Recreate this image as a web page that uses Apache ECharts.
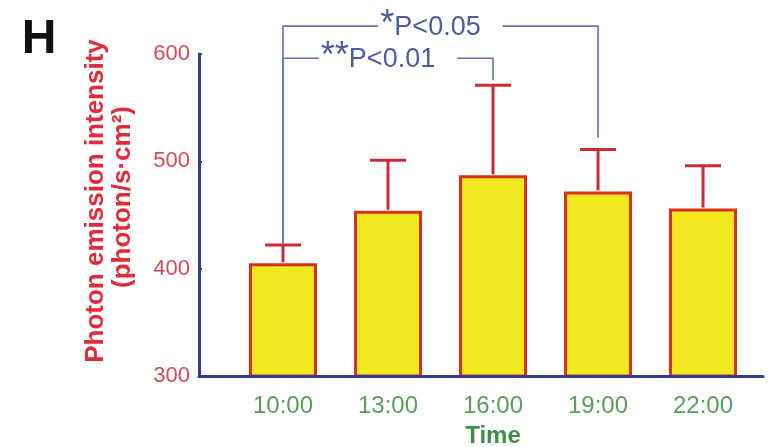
<!DOCTYPE html>
<html>
<head>
<meta charset="utf-8">
<script src="https://cdn.jsdelivr.net/npm/echarts@6/dist/echarts.min.js"></script>
<style>
html,body{margin:0;padding:0;background:#fff;}
#chart{width:769px;height:447px;}
</style>
</head>
<body>
<div id="chart"></div>
<script>
// ---- data ----
const categories = ['10:00', '13:00', '16:00', '19:00', '22:00'];
const meanValues = [405, 454, 487, 472, 456];
const errorValues = [17, 47, 84, 39, 40];
const yTickValues = [300, 400, 500, 600];
const sigFrom = [0, 0];
const sigTo = [3, 2];
const sigStars = ['*', '**'];
const sigLabels = ['P<0.05', 'P<0.01'];
const sigLevels = [626, 596];

// ---- styles / annotation layout ----
const sigDropGap = [12, 5];
const FONT = 'Liberation Sans, Arial, sans-serif';
const AXIS_BLUE = '#2e3f8f';
const BRACKET = '#6474a8';
const SIG_TEXT = '#4c5c9c';
const STAR_FONT = '36px ' + FONT;
const P_FONT = '27px ' + FONT;

const measureCtx = document.createElement('canvas').getContext('2d');
function textWidth(t, font) { measureCtx.font = font; return measureCtx.measureText(t).width; }

const chart = echarts.init(document.getElementById('chart'), null, {renderer: 'canvas'});

const option = {
  backgroundColor: '#ffffff',
  animation: false,
  grid: {left: 199, right: 6, top: 54, bottom: 71, containLabel: false, outerBoundsMode: 'none'},
  graphic: [
    {type: 'text', x: 39, y: 40, style: {text: 'H', font: 'bold 48px ' + FONT, fill: '#111', align: 'center', verticalAlign: 'middle'}},
    {type: 'text', x: 96, y: 201, rotation: Math.PI / 2, style: {text: 'Photon emission intensity', font: 'bold 26px ' + FONT, fill: '#e02b3b', align: 'center', verticalAlign: 'middle'}},
    {type: 'text', x: 123, y: 197, rotation: Math.PI / 2, style: {text: '(photon/s\u00b7cm\u00b2)', font: 'bold 26px ' + FONT, fill: '#e02b3b', align: 'center', verticalAlign: 'middle'}}
  ],
  xAxis: {
    type: 'value',
    min: -0.8,
    max: 4.571,
    z: 5,
    axisLine: {show: true, onZero: false, lineStyle: {color: AXIS_BLUE, width: 3}},
    axisTick: {show: false},
    splitLine: {show: false},
    axisLabel: {
      customValues: categories.map((c, i) => i),
      formatter: v => categories[Math.round(v)] || '',
      color: '#5a9e5a', fontSize: 24, fontFamily: FONT, margin: 18
    },
    name: 'Time',
    nameLocation: 'middle',
    nameGap: 48,
    nameTextStyle: {color: '#3f8f48', fontWeight: 'bold', fontSize: 24, fontFamily: FONT, padding: [0, 0, 0, 24]}
  },
  yAxis: {
    type: 'value',
    min: yTickValues[0],
    max: yTickValues[yTickValues.length - 1],
    interval: yTickValues[1] - yTickValues[0],
    z: 5,
    axisLine: {show: true, onZero: false, lineStyle: {color: AXIS_BLUE, width: 3}},
    axisTick: {show: true, inside: true, length: 3, lineStyle: {color: AXIS_BLUE, width: 2}},
    splitLine: {show: false},
    axisLabel: {color: '#d64a5c', fontSize: 22, fontFamily: FONT, margin: 9}
  },
  series: [
    {
      type: 'bar',
      data: meanValues.map((v, i) => [i, v]),
      barWidth: 68,
      clip: true,
      itemStyle: {color: '#f2e81f', borderColor: '#d9301e', borderWidth: 3},
      z: 2
    },
    {
      type: 'custom',
      clip: false,
      z: 3,
      data: meanValues.map((v, i) => [i, v, v + errorValues[i]]),
      encode: {x: 0, y: [1, 2]},
      renderItem: function (params, api) {
        const x = api.value(0);
        const p0 = api.coord([x, api.value(1)]);
        const p1 = api.coord([x, api.value(2)]);
        const half = 18;
        const st = {stroke: '#cc2a3a', lineWidth: 3};
        return {type: 'group', children: [
          {type: 'line', shape: {x1: p0[0], y1: p0[1] - 1, x2: p1[0], y2: p1[1]}, style: st},
          {type: 'line', shape: {x1: p1[0] - half, y1: p1[1], x2: p1[0] + half, y2: p1[1]}, style: st}
        ]};
      }
    },
    {
      type: 'custom',
      clip: false,
      z: 4,
      data: sigFrom.map((f, i) => [i]),
      encode: {x: 0},
      renderItem: function (params, api) {
        const i = params.dataIndex;
        const f = sigFrom[i], t = sigTo[i];
        const a = api.coord([f, sigLevels[i]]);
        const b = api.coord([t, sigLevels[i]]);
        const aEnd = api.coord([f, meanValues[f] + errorValues[f]]);
        const bEnd = api.coord([t, meanValues[t] + errorValues[t]]);
        const starW = textWidth(sigStars[i], STAR_FONT);
        const pW = textWidth(sigLabels[i], P_FONT);
        const padL = 2, padR = 22;
        const left = (a[0] + b[0]) / 2 - (padL + starW + pW + padR) / 2;
        return {type: 'group', children: [
          {type: 'polyline', shape: {points: [[aEnd[0], aEnd[1]], [a[0], a[1]], [b[0], b[1]], [b[0], bEnd[1] - sigDropGap[i]]]},
           style: {stroke: BRACKET, lineWidth: 1.6, fill: null}},
          {type: 'text', x: left, y: a[1] + 1, z2: 1,
           style: {text: sigLabels[i], font: P_FONT, fill: SIG_TEXT, align: 'left', verticalAlign: 'middle',
                   backgroundColor: '#ffffff', padding: [2, padR, 2, padL + starW]}},
          {type: 'text', x: left + padL, y: a[1] - 1, z2: 2,
           style: {text: sigStars[i], font: STAR_FONT, fill: SIG_TEXT, align: 'left', verticalAlign: 'middle'}}
        ]};
      }
    }
  ]
};
chart.setOption(option);
</script>
</body>
</html>
